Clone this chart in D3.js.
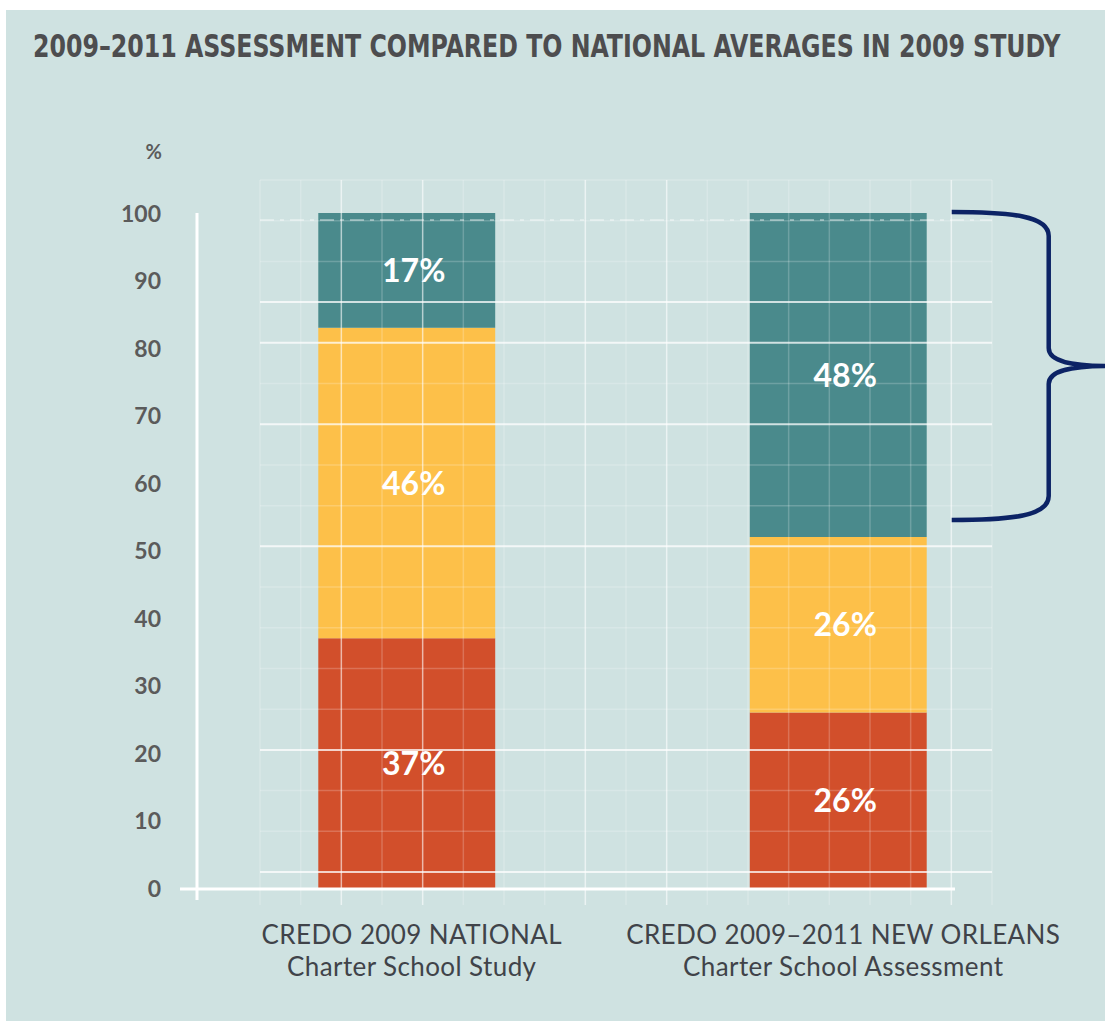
<!DOCTYPE html>
<html>
<head>
<meta charset="utf-8">
<script src="https://cdn.jsdelivr.net/npm/d3@7"></script>
<style>
  html, body { margin: 0; padding: 0; background: #ffffff; }
  #chart { width: 1105px; height: 1021px; }
  .ytick text { font-family: Lato, "Open Sans", sans-serif; font-weight: 700; font-size: 23px; fill: #5b5b5b; }
</style>
</head>
<body>
<div id="chart"></div>
<script>
// chart data
var categories = ["national", "neworleans"];
var catLine1 = ["CREDO 2009 NATIONAL", "CREDO 2009\u20132011 NEW ORLEANS"];
var catLine2 = ["Charter School Study", "Charter School Assessment"];
var worse = [37, 26];   // red, bottom
var same = [46, 26];    // yellow, middle
var better = [17, 48];  // teal, top
var yTicks = [0, 10, 20, 30, 40, 50, 60, 70, 80, 90, 100];
var title = "2009\u20132011 ASSESSMENT COMPARED TO NATIONAL AVERAGES IN 2009 STUDY";

var keys = ["worse", "same", "better"];
var colours = { worse: "#d24f2b", same: "#fdc049", better: "#4a8a8c" };

var table = categories.map(function(c, i) {
    return { cat: c, worse: worse[i], same: same[i], better: better[i] };
});

var width = 1105, height = 1021;

var svg = d3.select("#chart")
    .append("svg")
    .attr("width", width)
    .attr("height", height);

// background panel
svg.append("rect")
    .attr("x", 6)
    .attr("y", 10)
    .attr("width", width - 6)
    .attr("height", height - 10)
    .attr("fill", "#cfe2e1");

// title, squeezed horizontally to the width it has in the print
var titleText = svg.append("text")
    .attr("x", 0)
    .attr("y", 0)
    .style("font-family", "'DejaVu Sans Condensed', 'Liberation Sans Narrow', 'DejaVu Sans', sans-serif")
    .style("font-stretch", "condensed")
    .style("font-weight", "700")
    .style("font-size", "32px")
    .style("fill", "#4d4d4f")
    .text(title);
var titleLen = titleText.node().getComputedTextLength();
titleText.attr("transform", "translate(33,57) scale(" + (1028 / titleLen) + ",1)");

// scales
var yScale = d3.scaleLinear()
    .domain([0, 100])
    .range([888, 213]);

var xScale = d3.scaleBand()
    .domain(categories)
    .range([191, 1054])
    .paddingInner(0.59)
    .paddingOuter(0.295);

// stacked bars
var series = d3.stack().keys(keys)(table);

var layers = svg.append("g")
    .selectAll("g")
    .data(series)
    .enter()
    .append("g")
    .attr("fill", function(d) { return colours[d.key]; });

layers.selectAll("rect")
    .data(function(d) { return d; })
    .enter()
    .append("rect")
    .attr("x", function(d) { return xScale(d.data.cat); })
    .attr("y", function(d) { return yScale(d[1]); })
    .attr("width", xScale.bandwidth())
    .attr("height", function(d) { return yScale(d[0]) - yScale(d[1]); });

// faint scan grid lying over the plot
var grid = svg.append("g").attr("class", "grid");
var gx = d3.scaleLinear().domain([0, 18]).range([260, 992]);
var gy = d3.scaleLinear().domain([0, 17]).range([180, 872]);
var brightX = [2, 4, 8, 10, 17];
var brightY = [3, 4, 6, 9, 14, 17];

grid.selectAll("line.gv")
    .data(d3.range(0, 19))
    .enter()
    .append("line")
    .attr("class", "gv")
    .attr("x1", function(d) { return gx(d); })
    .attr("x2", function(d) { return gx(d); })
    .attr("y1", 180)
    .attr("y2", 905)
    .style("stroke", "#ffffff")
    .style("stroke-width", 1.5)
    .style("opacity", function(d) { return brightX.indexOf(d) >= 0 ? 0.6 : 0.2; });

grid.selectAll("line.gh")
    .data(d3.range(0, 18))
    .enter()
    .append("line")
    .attr("class", "gh")
    .attr("x1", 260)
    .attr("x2", 992)
    .attr("y1", function(d) { return gy(d); })
    .attr("y2", function(d) { return gy(d); })
    .style("stroke", "#ffffff")
    .style("stroke-width", function(d) { return brightY.indexOf(d) >= 0 ? 2 : 1.5; })
    .style("opacity", function(d) { return brightY.indexOf(d) >= 0 ? 0.75 : 0.2; });

// dashed line near the top
grid.append("line")
    .attr("x1", 260)
    .attr("x2", 992)
    .attr("y1", 220)
    .attr("y2", 220)
    .style("stroke", "#ffffff")
    .style("stroke-width", 1.5)
    .style("stroke-dasharray", "14,6,4,6")
    .style("opacity", 0.5);

// segment labels
layers.selectAll("text")
    .data(function(d) { return d; })
    .enter()
    .append("text")
    .attr("x", function(d) { return xScale(d.data.cat) + xScale.bandwidth() / 2 + 7; })
    .attr("y", function(d) { return (yScale(d[0]) + yScale(d[1])) / 2; })
    .attr("dy", "0.36em")
    .style("text-anchor", "middle")
    .style("font-family", "Lato, 'Open Sans', sans-serif")
    .style("font-weight", "700")
    .style("font-size", "32px")
    .style("fill", "#ffffff")
    .text(function(d) { return (d[1] - d[0]) + "%"; });

// y axis
var yAxis = svg.append("g")
    .attr("transform", "translate(197,0)")
    .call(d3.axisLeft(yScale).tickValues(yTicks).tickSize(0).tickPadding(36));
yAxis.select(".domain").remove();
yAxis.selectAll(".tick").attr("class", "ytick");
yAxis.selectAll("text").attr("dy", "0.36em");

svg.append("text")
    .attr("x", 162)
    .attr("y", 152)
    .attr("dy", "0.36em")
    .style("text-anchor", "end")
    .style("font-family", "Lato, 'Open Sans', sans-serif")
    .style("font-weight", "700")
    .style("font-size", "20px")
    .style("fill", "#5b5b5b")
    .text("%");

// axis lines
svg.append("line")
    .attr("x1", 197).attr("x2", 197)
    .attr("y1", yScale(100)).attr("y2", yScale(0) + 12)
    .style("stroke", "#ffffff")
    .style("stroke-width", 3);

svg.append("line")
    .attr("x1", 180).attr("x2", 955)
    .attr("y1", yScale(0) + 1).attr("y2", yScale(0) + 1)
    .style("stroke", "#ffffff")
    .style("stroke-width", 3);

// category labels
var catLabels = svg.append("g")
    .selectAll("text")
    .data(categories)
    .enter()
    .append("text")
    .attr("x", function(d) { return xScale(d) + xScale.bandwidth() / 2 + 5; })
    .attr("y", 944)
    .style("text-anchor", "middle")
    .style("font-family", "Lato, 'Open Sans', sans-serif")
    .style("font-size", "26px")
    .style("letter-spacing", "0.4px")
    .style("fill", "#404349");

catLabels.append("tspan")
    .text(function(d, i) { return catLine1[i]; });
catLabels.append("tspan")
    .attr("x", function(d) { return xScale(d) + xScale.bandwidth() / 2 + 5; })
    .attr("dy", 32)
    .text(function(d, i) { return catLine2[i]; });

// curly brace next to the New Orleans "better" share
var last = categories.length - 1;
var bTop = yScale(100) - 1;
var bBot = yScale(100 - better[last]) - 17;
var bMid = (bTop + bBot) / 2;
var x0 = xScale(categories[last]) + xScale.bandwidth() + 25;
var x1 = x0 + 97;
var x2 = x1 + 60;

var brace = d3.path();
brace.moveTo(x0, bTop);
brace.bezierCurveTo(x0 + 60, bTop, x1, bTop + 4, x1, bTop + 24);
brace.lineTo(x1, bMid - 18);
brace.bezierCurveTo(x1, bMid - 4, x1 + 25, bMid, x2, bMid);
brace.moveTo(x2, bMid);
brace.bezierCurveTo(x1 + 25, bMid, x1, bMid + 4, x1, bMid + 18);
brace.lineTo(x1, bBot - 24);
brace.bezierCurveTo(x1, bBot - 4, x0 + 60, bBot, x0, bBot);

svg.append("path")
    .attr("d", brace.toString())
    .style("fill", "none")
    .style("stroke", "#0c2365")
    .style("stroke-width", 4.5)
    .style("stroke-linecap", "butt");
</script>
</body>
</html>
